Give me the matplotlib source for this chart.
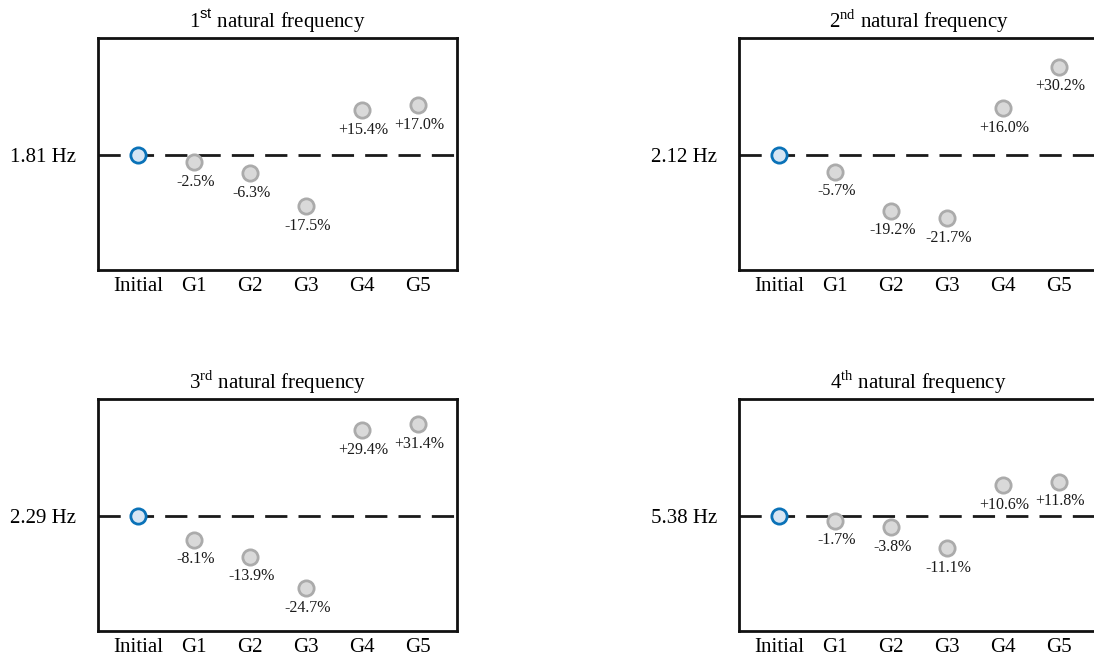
import matplotlib
matplotlib.use("Agg")
import matplotlib.pyplot as plt

plt.rcParams['font.family'] = ['Liberation Serif', 'DejaVu Serif']
plt.rcParams['mathtext.fontset'] = 'custom'
plt.rcParams['mathtext.rm'] = 'Liberation Serif'
plt.rcParams['mathtext.sf'] = 'Liberation Sans'

categories = ["Initial", "G1", "G2", "G3", "G4", "G5"]
titles = [r"1$^{\mathsf{st}}$ natural frequency",
          r"2$^{\mathrm{nd}}$ natural frequency",
          r"3$^{\mathrm{rd}}$ natural frequency",
          r"4$^{\mathrm{th}}$ natural frequency"]
base_labels = ["1.81 Hz", "2.12 Hz", "2.29 Hz", "5.38 Hz"]
change_1 = [-2.5, -6.3, -17.5, 15.4, 17.0]
change_2 = [-5.7, -19.2, -21.7, 16.0, 30.2]
change_3 = [-8.1, -13.9, -24.7, 29.4, 31.4]
change_4 = [-1.7, -3.8, -11.1, 10.6, 11.8]
changes = [change_1, change_2, change_3, change_4]

fig = plt.figure(figsize=(10.94, 6.59), dpi=100)
W, H = 1094, 659
boxes = [(98, 38, 359), (739, 38, 370), (98, 399, 359), (739, 399, 370)]
ah = 232
step = 56.0

for k, (px, py, aw) in enumerate(boxes):
    ax = fig.add_axes([px / W, 1 - (py + ah) / H, aw / W, ah / H])
    x0 = -40 / step
    ax.set_xlim(x0, x0 + aw / step)
    ax.set_ylim(-39.4, 40.1)
    ax.axhline(0, color='#1a1a1a', lw=2, dashes=(8, 4), zorder=1)
    xs = list(range(1, len(categories)))
    ax.plot([0], [0], 'o', ms=11, mfc='#d6e5f3', mec='#0a72b8', mew=2, zorder=3)
    ax.plot(xs, changes[k], 'o', ms=11, mfc='#d9d9d9', mec='#ababab', mew=2,
            ls='none', zorder=3)
    for x, v in zip(xs, changes[k]):
        ax.annotate(f"{v:+.1f}%", (x, v), xytext=(1, -14), textcoords='offset points',
                    ha='center', va='center', fontsize=11.5, color='#1a1a1a', zorder=4)
    ax.set_xticks(range(len(categories)))
    ax.set_xticklabels(categories, fontsize=15)
    ax.set_yticks([0])
    ax.set_yticklabels([base_labels[k]], fontsize=15)
    ax.tick_params(axis='both', length=0)
    ax.tick_params(axis='y', pad=16)
    ax.tick_params(axis='x', pad=5)
    for s in ax.spines.values():
        s.set_linewidth(2)
        s.set_color('#111111')
    ax.set_title(titles[k], fontsize=15, pad=7, x=179.5 / aw)

fig.savefig("out.png", dpi=100)
